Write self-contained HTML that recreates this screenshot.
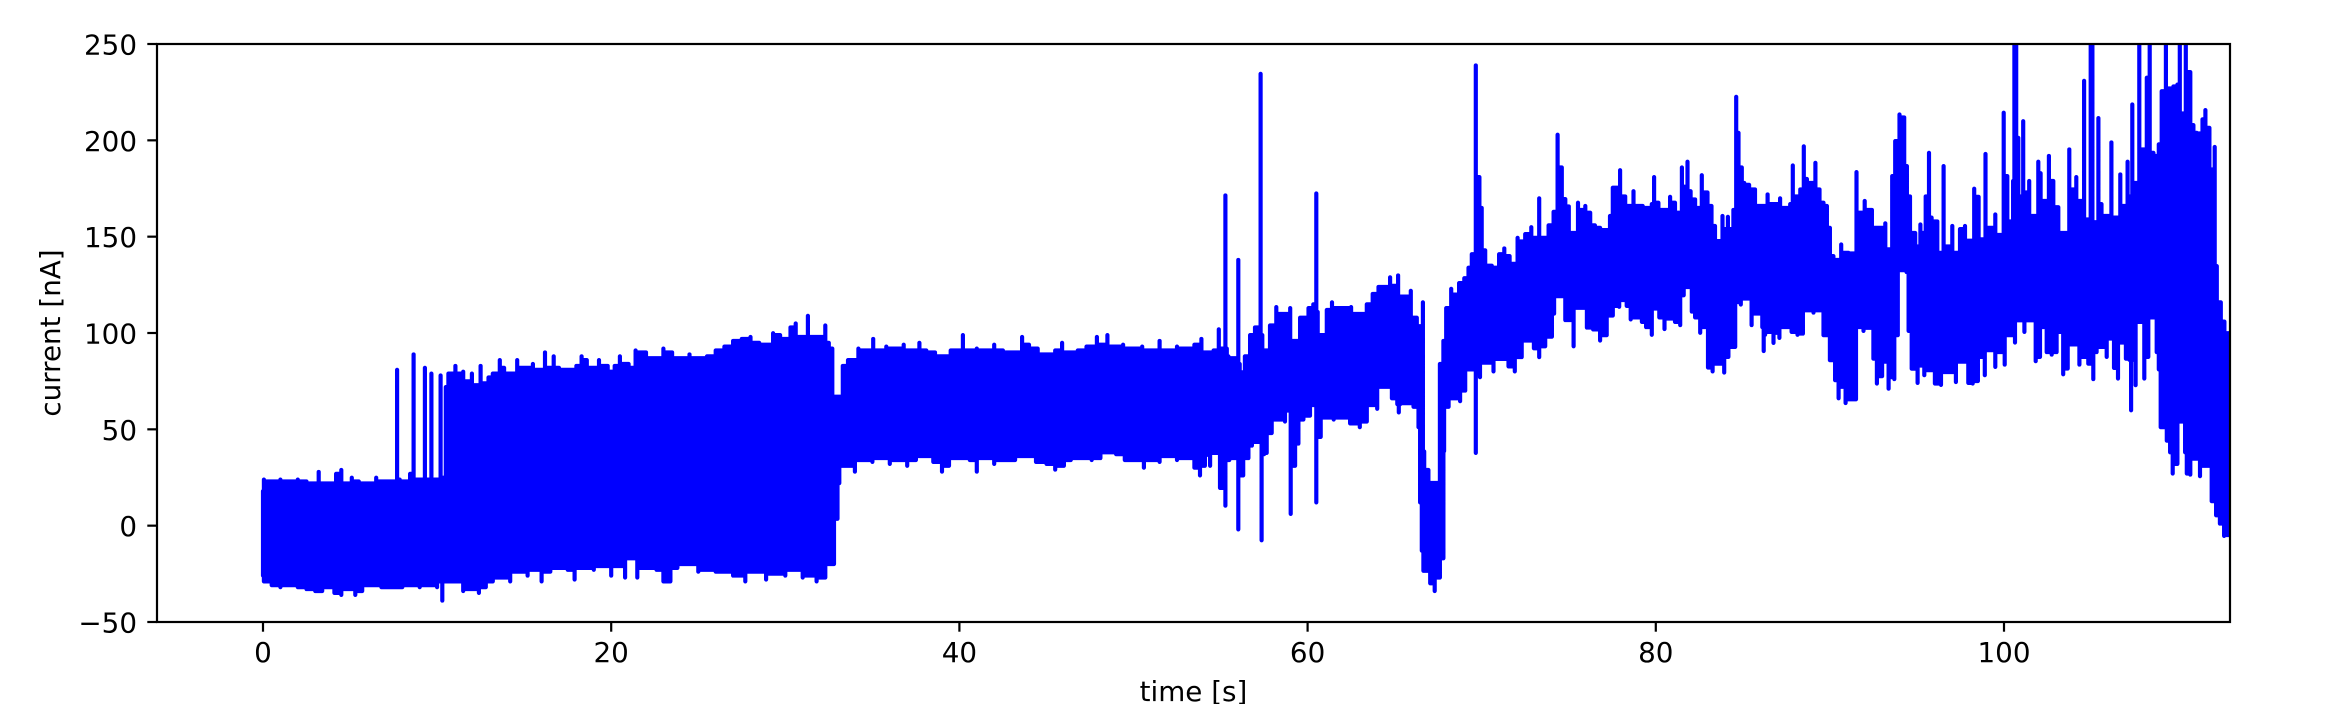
<!DOCTYPE html>
<html lang="en">
<head>
<meta charset="utf-8">
<title>Current vs time</title>
<style>
  html, body { margin: 0; padding: 0; background: #fff; width: 2338px; height: 704px; overflow: hidden; }
  svg { display: block; }
  text { font-family: "DejaVu Sans", "Liberation Sans", sans-serif; font-size: 27.78px; fill: #000; }
</style>
</head>
<body>
<svg id="chart" xmlns="http://www.w3.org/2000/svg" width="2338" height="704" viewBox="0 0 2338 704">
  <defs>
    <clipPath id="plot-clip"><rect x="157" y="44" width="2073" height="578"></rect></clipPath>
  </defs>
  <rect x="0" y="0" width="2338" height="704" fill="#fff"></rect>
  <g id="series" clip-path="url(#plot-clip)"></g>
  <g id="axes"></g>
  <text x="1193.5" y="701" text-anchor="middle">time [s]</text>
  <text x="60" y="333" text-anchor="middle" transform="rotate(-90 60 333)">current [nA]</text>
</svg>
<script>
const xTickValues = [0, 20, 40, 60, 80, 100];
const yTickValues = [-50, 0, 50, 100, 150, 200, 250];

// Upper envelope of the recorded current: time [s]
const upperTime = [
0,0.05,0.5,1,1.5,2,2.5,3,3.2,3.45,
3.9,4.2,4.5,4.8,5.1,5.5,6,6.5,7,7.55,
7.7,7.85,8.2,8.45,8.65,8.8,9.15,9.3,9.45,9.55,
9.67,9.8,10.05,10.2,10.32,10.42,10.5,10.65,10.85,11.05,
11.3,11.5,11.7,12,12.2,12.5,12.7,12.95,13.2,13.6,
13.85,14.2,14.6,15,15.5,16,16.2,16.5,16.7,17,
17.5,18,18.3,18.6,19,19.3,19.8,20,20.2,20.5,
21,21.2,21.4,22,22.5,23,23.5,24,24.5,25,
25.5,26,26.5,27,27.5,28,28.5,29,29.3,29.7,
30,30.3,30.6,31,31.3,31.55,32,32.3,32.5,32.7,
32.85,33.3,33.6,34.2,34.6,35.05,35.3,35.8,36.3,36.8,
37.3,37.7,38.1,38.6,39,39.5,40.2,40.5,41,41.5,
42,42.5,43,43.6,44,44.5,45,45.5,45.9,46.3,
46.8,47.3,47.9,48.2,48.5,48.9,49.4,49.9,50.5,51,
51.5,52,52.5,53,53.5,53.9,54.1,54.6,54.9,55.1,
55.2,55.28,55.36,55.45,55.74,55.95,56.02,56.1,56.2,56.4,
56.7,56.98,57.2,57.3,57.4,57.55,57.84,58.2,58.4,59,
59.4,59.57,60.05,60.33,60.42,60.5,60.58,60.7,61.1,61.4,
61.96,62.5,63.2,63.4,63.74,64.07,64.74,64.93,65.2,65.5,
65.93,66.27,66.46,66.62,66.7,66.94,67.46,67.6,67.8,67.96,
68.25,68.5,68.7,69,69.24,69.43,69.58,69.66,69.87,70,
70.2,70.58,70.77,71,71.3,71.6,71.8,72.06,72.3,72.5,
72.85,73.07,73.22,73.3,73.45,73.84,74.13,74.3,74.36,74.6,
74.8,75,75.24,75.53,75.76,75.95,76.23,76.5,76.8,77.18,
77.37,77.53,77.72,77.95,78.24,78.52,78.72,78.87,79.25,79.58,
79.77,79.9,80.15,80.53,80.82,81.1,81.3,81.5,81.65,81.82,
82,82.26,82.45,82.64,82.78,82.97,83.2,83.4,83.6,83.83,
84,84.14,84.3,84.46,84.62,84.75,84.94,85.08,85.36,85.7,
86,86.2,86.42,86.67,87.14,87.53,87.72,87.87,88.06,88.3,
88.5,88.68,88.96,89.17,89.4,89.63,89.83,90,90.2,90.4,
90.65,91.07,91.36,91.53,91.7,92,92.41,92.7,93.18,93.37,
93.58,93.75,94,94.27,94.42,94.6,94.9,95.05,95.2,95.36,
95.5,95.69,95.84,96.17,96.36,96.53,96.7,97.03,97.28,97.47,
97.76,98.04,98.29,98.54,98.73,98.94,99.12,99.5,99.73,99.98,
100.19,100.38,100.52,100.6,100.7,100.82,100.97,101.1,101.3,101.45,
101.78,101.97,102.1,102.3,102.58,102.83,103.12,103.4,103.75,103.94,
104.15,104.36,104.6,104.84,104.98,105.08,105.17,105.42,105.6,105.9,
106.17,106.38,106.68,106.9,107.1,107.24,107.37,107.58,107.77,107.97,
108.2,108.37,108.58,108.73,108.89,109.06,109.3,109.5,109.73,109.96,
110.1,110.27,110.44,110.7,110.88,111.07,111.3,111.4,111.57,111.8,
111.93,112.1,112.22,112.45,112.66,112.9,113
];
// Upper envelope of the recorded current: value [nA]
const upperCurrent = [
19,25,24,25,24,25,24,23,29,23,
23,28,30,23,26,24,23,26,24,24,
82,25,24,28,90,25,25,83,25,25,
80,25,25,79,26,26,73,80,80,84,
80,81,76,80,74,84,75,78,80,87,
83,80,87,83,85,82,91,83,89,83,
82,84,89,87,83,87,84,81,84,89,
85,83,92,91,88,93,91,88,90,88,
89,92,94,97,98,99,96,95,101,100,
98,104,106,99,110,99,99,105,96,93,
68,84,87,93,92,98,92,94,93,95,
92,96,92,91,89,92,100,92,93,92,
95,92,91,99,95,93,90,92,96,91,
92,94,99,95,100,94,95,93,94,92,
97,92,94,93,95,98,91,92,103,93,
93,172.5,93,89,88,88,139,85,80.7,89,
100,104,104,235.6,100,92,105,114.5,111,114,
97,109,114,116,116,173.5,112,100,113,117,
114,114.5,111,116,121.4,125,130,125.6,131,120,
123,109,104.6,117,39.6,30,23.3,85,97,114,
124,121,127,129.5,135,142,142,240,182,166,
144,136,135,142,145,141,137,150.5,148.6,152.4,
156,150.5,150.5,171,150.5,157,164,164,204,187,
170.6,166.8,153,168.7,165,167,163.5,157,155.7,154.5,
161.8,176.5,176.5,185.6,172,167,174.7,167,167,166,
168,182,168.7,165,171.8,168.7,163.5,187,177,190,
174.7,170.4,166,183,174,174,167,156.6,148.8,161.8,
155,161.4,155,165,223.7,205,187,179,178,175.6,
167,167,173,168,171,166,168,188,172,175.6,
198,181,179,189.4,175.6,168.7,167,155.7,141,139,
147,142.7,142.4,184.6,163.5,169.6,165,155.7,158,144.5,
182.5,200.7,214.5,213,187.7,172,153,146,157.4,153,
172,194.6,161,159,142.7,187.7,146,156.6,142.7,155,
156.6,149,176,171.8,149.7,194,155.7,162.6,152,215.4,
182.5,159,180,255,255,202.4,172,211,174,180,
161.8,190,184,169.6,193,180,166.4,153,196.4,175.6,
182,169.6,232,160,255,255,158.6,212.6,168,161.8,
200,161,183.4,167,190,172,219.7,179,255,196.4,
233.6,255,194.6,193,199,226.6,255,228,229,230,
255,215,255,236.5,209,205,204.7,212,216.8,207.6,
186,197.6,135.8,117,107,101,101
];

// Lower envelope of the recorded current: time [s]
const lowerTime = [
0,0.05,0.5,1,1.5,2,2.5,3,3.4,3.8,
4.1,4.5,4.9,5.3,5.7,6.2,6.8,7.4,8,8.5,
9,9.5,10,10.15,10.3,10.45,11,11.5,12,12.4,
12.8,13.2,13.8,14.2,14.7,15.2,15.6,16,16.5,17,
17.5,17.9,18.4,19,19.6,20,20.4,20.8,21.2,21.5,
22,22.6,23,23.4,23.8,24.5,25,25.5,26,26.5,
27,27.7,28.2,28.9,29.5,30,30.5,31,31.4,31.8,
32.3,32.8,33,33.1,33.6,34,34.5,35,35.5,36,
36.5,37,37.5,38,38.5,39,39.4,40,40.6,41,
41.5,42,42.6,43.2,43.8,44.4,45,45.5,46,46.4,
47,47.6,48.1,48.6,49,49.5,50,50.6,51,51.5,
52,52.5,53,53.5,53.82,54.1,54.24,54.4,54.7,54.97,
55.28,55.5,55.74,55.95,56.02,56.1,56.3,56.6,56.8,57.08,
57.25,57.36,57.5,57.65,57.94,58.2,58.7,58.9,59.03,59.28,
59.47,59.76,60.14,60.33,60.5,60.75,61.1,61.5,62.06,62.44,
63,63.4,63.7,64,64.45,64.84,65.15,65.24,65.32,65.5,
66.08,66.37,66.46,66.56,66.65,67.04,67.3,67.6,67.8,67.84,
68.1,68.5,68.76,69.05,69.34,69.58,69.66,69.74,69.9,70.2,
70.68,71.06,71.54,71.9,72.3,72.7,73,73.3,73.65,74.03,
74.16,74.47,74.8,75.28,75.66,76.04,76.4,76.8,77.18,77.53,
77.66,77.9,78.05,78.33,78.56,78.9,79.2,79.44,79.77,79.96,
80.2,80.5,80.78,81.1,81.4,81.6,81.82,82.07,82.26,82.55,
82.8,83,83.26,83.5,83.93,84.17,84.56,84.7,84.88,85.13,
85.5,85.8,86.12,86.2,86.28,86.47,86.76,86.95,87.1,87.34,
87.8,88.14,88.45,88.68,89.06,89.35,89.63,90,90.3,90.5,
90.7,90.9,91.17,91.5,91.65,91.93,92.3,92.5,92.7,93,
93.18,93.37,93.56,93.7,93.9,94.04,94.4,94.52,94.7,95.04,
95.17,95.42,95.7,96.03,96.38,96.9,97.24,97.56,97.95,98.2,
98.5,98.62,98.9,99.14,99.5,99.73,100.04,100.25,100.63,100.88,
101.17,101.45,101.82,102.07,102.26,102.45,102.74,103.02,103.18,103.4,
103.66,104,104.33,104.6,104.84,105.13,105.32,105.6,105.9,106.09,
106.32,106.55,106.76,107,107.2,107.3,107.4,107.56,107.8,108.06,
108.29,108.39,108.58,108.77,108.89,109,109.35,109.54,109.69,109.96,
110.15,110.4,110.5,110.7,110.97,111.26,111.65,111.93,112.18,112.4,
112.64,112.9,113
];
// Lower envelope of the recorded current: value [nA]
const lowerCurrent = [
-27,-30,-32,-33,-32,-33,-34,-35,-35,-33,
-36,-37,-34,-37,-35,-32,-33,-33,-33,-32,
-33,-32,-33,-30,-40,-30,-30,-35,-34,-36,
-33,-30,-28,-30,-25,-27,-24,-30,-25,-23,
-24,-29,-23,-24,-22,-27,-22,-28,-18,-28,
-23,-24,-30,-30,-23,-21,-25,-24,-25,-25,
-27,-30,-25,-29,-26,-27,-24,-28,-27,-30,
-28,-21,2.5,21,30,27,33,32,34,31,
33,30,33,35,32,27,30,34,33,27,
34,31,33,33,35,32,31,28,30,33,
34,33,34,37,36,33,33,29,33,32,
35,33,34,29,25,30,35.7,30,36.7,18.5,
9.3,33,34,34,-3,25,25,34,40.5,42.4,
42.4,-8.7,36,36.7,47,54,53,58.7,5,30,
41.5,54,56,61.5,11,45,55,54,55,52,
50,53,61.5,59.6,71,65,62,57.7,62,62.5,
60.6,50,11,-14,-24.5,-31,-35,-28,-18,37.6,
60.6,65,63.5,69,80,80,36.7,78,76,83.5,
79,85.5,81.6,79,86.4,95,91,86.4,92,97,
109,118,105.6,92,112,101.7,100.8,95,97.8,108,
113,112.5,116,113,106,107,104.7,102,98,111.6,
107,101,106.4,104.7,103,118.5,122.8,110,107,99,
102,81,79,83,78.4,86.5,91.7,115,113.7,116.8,
103,109,102,89.6,98,99.5,93.8,99,96.4,102,
99.5,98,98.6,110.7,109.5,110.7,97.8,84.8,74.4,65,
71,62.6,64.5,64.5,102,100,101.6,85.6,72.7,76.5,
84,70,76,75,97.8,131.5,130.6,100,80.4,73,
82,77,79.6,72.7,72,78.7,73.5,84,73,72.7,
74,86.5,77,90,81.3,89,82.5,97.8,94,105.5,
99.5,105.5,84.3,86.5,102,89,87.7,89,99.5,77.5,
80.5,93,82.5,86.5,83,75,89,91.7,86.5,96,
80.8,75.3,94,85.6,85,58.8,85,71.8,104.7,75.3,
86.5,107,107,89,80,50,43,37,26,31,
53,37,26,25.4,33.7,24.6,30,11.6,4.3,0,
-6.4,-6,-6
];

const NS = 'http://www.w3.org/2000/svg';
const PLOT = { left: 157, right: 2230, top: 44, bottom: 622 };
const X_ORIGIN = 263;
const X_PER_UNIT = 17.41;
const Y_MIN = -50;
const Y_MAX = 250;
const LINE_WIDTH = 4.17;
const AXIS_WIDTH = 2.2;
const TICK_LENGTH = 9.7;

function xScale(t) { return X_ORIGIN + t * X_PER_UNIT; }
function yScale(v) { return PLOT.bottom - (v - Y_MIN) * (PLOT.bottom - PLOT.top) / (Y_MAX - Y_MIN); }

function make(tag, attrs, parent) {
  const el = document.createElementNS(NS, tag);
  for (const k in attrs) el.setAttribute(k, attrs[k]);
  parent.appendChild(el);
  return el;
}

// Builds a stepped outline: each interval holds the value nearer the band's inside,
// and every sample rises or falls from it as a zero-width excursion, which the stroke
// turns into a line-width vertical bar.
function stepOutline(times, values, pickInner, offset) {
  const out = [];
  function add(x, y) { out.push(x.toFixed(1) + ' ' + (y + offset).toFixed(1)); }
  for (let i = 0; i < times.length; i++) {
    const x = xScale(times[i]);
    add(x, yScale(values[i]));
    if (i < times.length - 1) {
      const level = yScale(pickInner(values[i], values[i + 1]));
      add(x, level);
      add(xScale(times[i + 1]), level);
    }
  }
  return out;
}

function drawSeries() {
  const layer = document.getElementById('series');
  // Envelope values were read at the outer edge of the drawn line, so pull them in by half its width.
  const inset = LINE_WIDTH / 2;
  const top = stepOutline(upperTime, upperCurrent, Math.min, inset);
  const bottom = stepOutline(lowerTime, lowerCurrent, Math.max, -inset).reverse();
  const path = make('path', {
    d: 'M' + top.concat(bottom).join('L') + 'Z',
    fill: '#0000ff',
    stroke: '#0000ff',
    'stroke-width': LINE_WIDTH,
    'stroke-linejoin': 'round'
  }, layer);
  
  
}

function drawAxes() {
  const layer = document.getElementById('axes');
  xTickValues.forEach(function (v) {
    const x = xScale(v);
    const tick = make('line', { x1: x, x2: x, y1: PLOT.bottom, y2: PLOT.bottom + TICK_LENGTH, stroke: '#000', 'stroke-width': AXIS_WIDTH }, layer);
    
    
    const label = make('text', { x: x, y: 662, 'text-anchor': 'middle' }, layer);
    label.textContent = String(v);
    
    
  });
  yTickValues.forEach(function (v) {
    const y = yScale(v);
    const tick = make('line', { x1: PLOT.left - TICK_LENGTH, x2: PLOT.left, y1: y, y2: y, stroke: '#000', 'stroke-width': AXIS_WIDTH }, layer);
    
    
    const label = make('text', { x: 137, y: y + 10.5, 'text-anchor': 'end' }, layer);
    label.textContent = String(v).replace('-', '\u2212');
    
    
  });
  const frame = make('rect', {
    x: PLOT.left, y: PLOT.top,
    width: PLOT.right - PLOT.left, height: PLOT.bottom - PLOT.top,
    fill: 'none', stroke: '#000', 'stroke-width': AXIS_WIDTH
  }, layer);
  
  
}

drawSeries();
drawAxes();
</script>
</body>
</html>
